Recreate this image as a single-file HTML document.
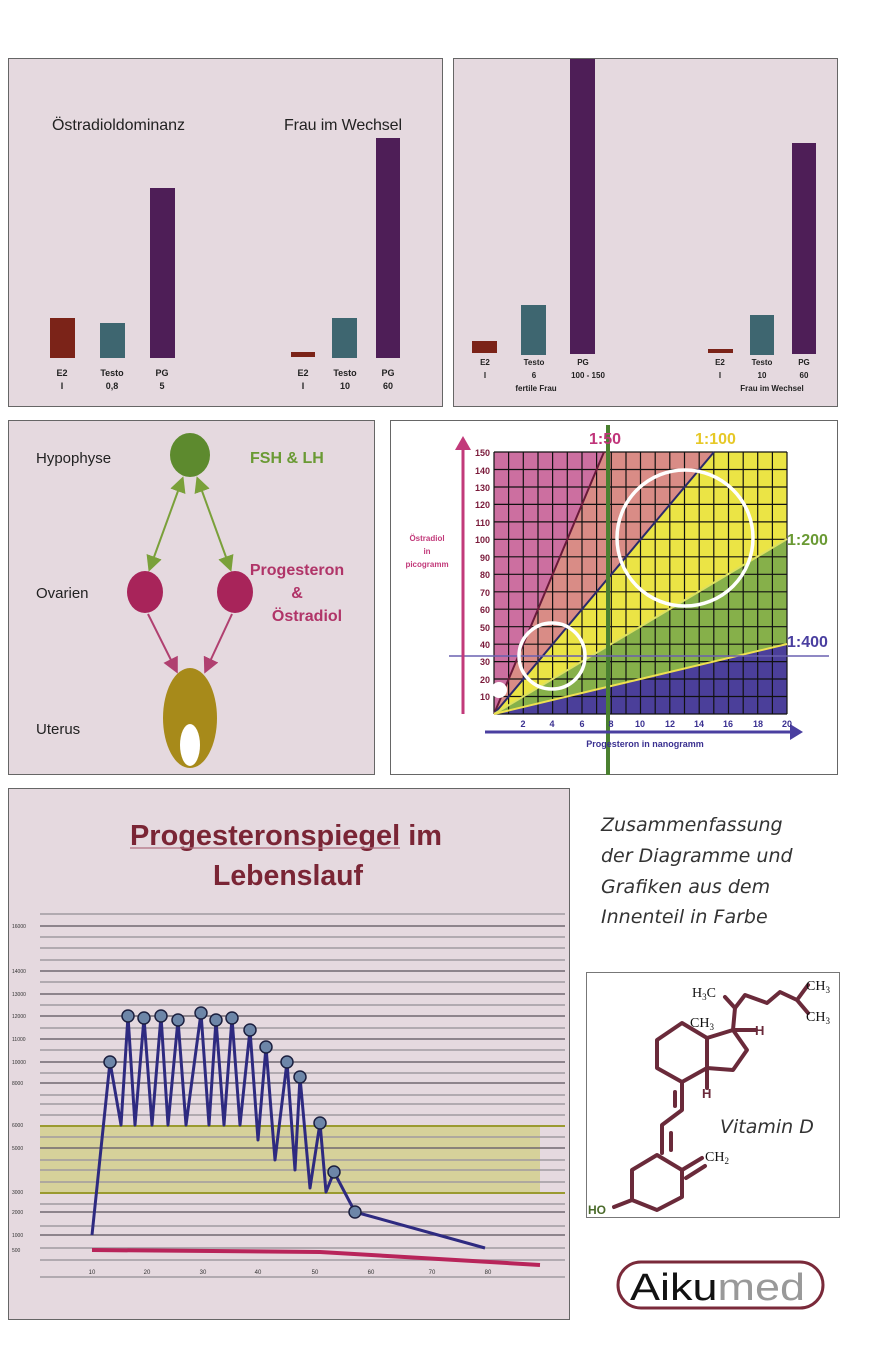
<!DOCTYPE html>
<html><head><meta charset="utf-8"><style>
html,body{margin:0;padding:0;background:#fff}
svg{display:block}
text{font-family:"Liberation Sans",sans-serif}
</style></head><body>
<svg width="870" height="1356" viewBox="0 0 870 1356" xmlns="http://www.w3.org/2000/svg">
<rect width="870" height="1356" fill="#fff"/>
<!-- Panel 1 -->
<rect x="8.5" y="58.5" width="434" height="348" fill="#e5d9df" stroke="#666"/>
<text x="52" y="130" font-size="16" fill="#222" textLength="133">Östradioldominanz</text>
<text x="284" y="130" font-size="16" fill="#222" textLength="118">Frau im Wechsel</text>
<rect x="50" y="318" width="25" height="40" fill="#7b2318"/>
<rect x="100" y="323" width="25" height="35" fill="#3e6670"/>
<rect x="150" y="188" width="25" height="170" fill="#4e1e57"/>
<rect x="291" y="352" width="24" height="5" fill="#7b2318"/>
<rect x="332" y="318" width="25" height="40" fill="#3e6670"/>
<rect x="376" y="138" width="24" height="220" fill="#4e1e57"/>
<g font-size="9" font-weight="bold" fill="#222" text-anchor="middle">
<text x="62" y="376">E2</text><text x="62" y="389">I</text>
<text x="112" y="376">Testo</text><text x="112" y="389">0,8</text>
<text x="162" y="376">PG</text><text x="162" y="389">5</text>
<text x="303" y="376">E2</text><text x="303" y="389">I</text>
<text x="345" y="376">Testo</text><text x="345" y="389">10</text>
<text x="388" y="376">PG</text><text x="388" y="389">60</text>
</g>
<!-- Panel 2 -->
<rect x="453.5" y="58.5" width="384" height="348" fill="#e5d9df" stroke="#666"/>
<rect x="472" y="341" width="25" height="12" fill="#7b2318"/>
<rect x="521" y="305" width="25" height="50" fill="#3e6670"/>
<rect x="570" y="59" width="25" height="295" fill="#4e1e57"/>
<rect x="708" y="349" width="25" height="4" fill="#7b2318"/>
<rect x="750" y="315" width="24" height="40" fill="#3e6670"/>
<rect x="792" y="143" width="24" height="211" fill="#4e1e57"/>
<g font-size="8" font-weight="bold" fill="#222" text-anchor="middle">
<text x="485" y="365">E2</text><text x="485" y="378">I</text>
<text x="534" y="365">Testo</text><text x="534" y="378">6</text>
<text x="583" y="365">PG</text><text x="588" y="378">100 - 150</text>
<text x="536" y="391">fertile Frau</text>
<text x="720" y="365">E2</text><text x="720" y="378">I</text>
<text x="762" y="365">Testo</text><text x="762" y="378">10</text>
<text x="804" y="365">PG</text><text x="804" y="378">60</text>
<text x="772" y="391">Frau im Wechsel</text>
</g>
<!-- Panel 3 -->
<rect x="8.5" y="420.5" width="366" height="354" fill="#e5d9df" stroke="#666"/>
<text x="36" y="463" font-size="15" fill="#222">Hypophyse</text>
<text x="36" y="598" font-size="15" fill="#222">Ovarien</text>
<text x="36" y="734" font-size="15" fill="#222">Uterus</text>
<text x="250" y="463" font-size="16" font-weight="bold" fill="#6a9a34">FSH &amp; LH</text>
<g font-size="16" font-weight="bold" fill="#b03468" text-anchor="middle">
<text x="297" y="575">Progesteron</text><text x="297" y="598">&amp;</text><text x="307" y="621">Östradiol</text></g>
<defs>
<marker id="ag" markerWidth="8" markerHeight="8" refX="6" refY="4" orient="auto"><path d="M0,0 L8,4 L0,8 z" fill="#7aa03a"/></marker>
<marker id="agr" markerWidth="8" markerHeight="8" refX="2" refY="4" orient="auto"><path d="M8,0 L0,4 L8,8 z" fill="#7aa03a"/></marker>
<marker id="ap" markerWidth="8" markerHeight="8" refX="6" refY="4" orient="auto"><path d="M0,0 L8,4 L0,8 z" fill="#b04070"/></marker>
</defs>
<g stroke="#7aa03a" stroke-width="2"><line x1="182" y1="480" x2="150" y2="568" marker-start="url(#agr)" marker-end="url(#ag)"/>
<line x1="198" y1="480" x2="230" y2="568" marker-start="url(#agr)" marker-end="url(#ag)"/></g>
<g stroke="#b04070" stroke-width="2"><line x1="148" y1="614" x2="176" y2="670" marker-end="url(#ap)"/><line x1="232" y1="614" x2="206" y2="670" marker-end="url(#ap)"/></g>
<ellipse cx="190" cy="455" rx="20" ry="22" fill="#5d8a2e"/>
<ellipse cx="145" cy="592" rx="18" ry="21" fill="#a8245a"/>
<ellipse cx="235" cy="592" rx="18" ry="21" fill="#a8245a"/>
<ellipse cx="190" cy="718" rx="27" ry="50" fill="#a78a1a"/>
<ellipse cx="190" cy="745" rx="10" ry="21" fill="#fff"/>
<!-- Panel 4 -->
<rect x="390.5" y="420.5" width="447" height="354" fill="#fff" stroke="#666"/>
<polygon points="494,714 494,452 604,452" fill="#cc6fa0"/>
<polygon points="494,714 604,452 714,452" fill="#d98c86"/>
<polygon points="494,714 714,452 787,452 787,539" fill="#ebe445"/>
<polygon points="494,714 787,539 787,644" fill="#86b04a"/>
<polygon points="494,714 787,644 787,714" fill="#4b3f9a"/>
<g stroke="#111" stroke-width="1.2">
<path d="M494,452V714M508.6,452V714M523.3,452V714M538,452V714M552.6,452V714M567.3,452V714M582,452V714M596.6,452V714M611.3,452V714M626,452V714M640.5,452V714M655.2,452V714M669.8,452V714M684.5,452V714M699.2,452V714M713.8,452V714M728.5,452V714M743.2,452V714M757.7,452V714M772.4,452V714M787,452V714"/>
<path d="M494,452H787M494,469.5H787M494,487H787M494,504.4H787M494,521.9H787M494,539.3H787M494,556.8H787M494,574.3H787M494,591.8H787M494,609.2H787M494,626.7H787M494,644.2H787M494,661.6H787M494,679H787M494,696.5H787M494,714H787"/>
</g>
<g stroke-width="2"><line x1="494" y1="714" x2="604" y2="452" stroke="#6a1a3a"/><line x1="494" y1="714" x2="714" y2="452" stroke="#2a2a6a"/><line x1="494" y1="714" x2="787" y2="539" stroke="#dde060"/><line x1="494" y1="714" x2="787" y2="644" stroke="#eee050"/></g>
<line x1="608" y1="425" x2="608" y2="775" stroke="#4a8030" stroke-width="4"/>
<line x1="449" y1="656" x2="829" y2="656" stroke="#6a60b0" stroke-width="1.5"/>
<circle cx="685" cy="538" r="68" fill="none" stroke="#fff" stroke-width="3.5"/>
<circle cx="552" cy="656" r="33" fill="none" stroke="#fff" stroke-width="3.5"/>
<circle cx="499" cy="690" r="8" fill="#fff"/>
<line x1="463" y1="714" x2="463" y2="448" stroke="#c23a7a" stroke-width="3"/><path d="M455,450 L463,436 L471,450z" fill="#c23a7a"/>
<line x1="485" y1="732" x2="792" y2="732" stroke="#4a3fa0" stroke-width="3"/><path d="M790,724 L803,732 L790,740z" fill="#4a3fa0"/>
<g font-size="9" font-weight="bold" fill="#7a1a3a" text-anchor="end">
<text x="490" y="456">150</text><text x="490" y="474">140</text><text x="490" y="491">130</text><text x="490" y="508">120</text><text x="490" y="526">110</text><text x="490" y="543">100</text><text x="490" y="561">90</text><text x="490" y="578">80</text><text x="490" y="596">70</text><text x="490" y="613">60</text><text x="490" y="631">50</text><text x="490" y="648">40</text><text x="490" y="665">30</text><text x="490" y="683">20</text><text x="490" y="700">10</text></g>
<g font-size="9" font-weight="bold" fill="#3a3090" text-anchor="middle">
<text x="523" y="727">2</text><text x="552" y="727">4</text><text x="582" y="727">6</text><text x="611" y="727">8</text><text x="640" y="727">10</text><text x="670" y="727">12</text><text x="699" y="727">14</text><text x="728" y="727">16</text><text x="758" y="727">18</text><text x="787" y="727">20</text>
<text x="645" y="747">Progesteron in nanogramm</text></g>
<g font-size="8" font-weight="bold" fill="#c23a7a" text-anchor="middle"><text x="427" y="541">Östradiol</text><text x="427" y="554">in</text><text x="427" y="567">picogramm</text></g>
<g font-size="16" font-weight="bold"><text x="589" y="444" fill="#c0347a">1:50</text><text x="695" y="444" fill="#e6c827">1:100</text><text x="787" y="545" fill="#6a9a34">1:200</text><text x="787" y="647" fill="#4a3fa0">1:400</text></g>
<!-- Panel 5 -->
<rect x="8.5" y="788.5" width="561" height="531" fill="#e5d9df" stroke="#666"/>
<g font-size="29" font-weight="bold" fill="#7a2535">
<text x="130" y="845" textLength="312" lengthAdjust="spacingAndGlyphs">Progesteronspiegel im</text>
<text x="213" y="885" textLength="150" lengthAdjust="spacingAndGlyphs">Lebenslauf</text></g>
<line x1="130" y1="848" x2="400" y2="848" stroke="#b07080" stroke-width="1.2"/>
<rect x="40" y="1126" width="500" height="67" fill="#d4cf8e" opacity="0.85"/>
<g stroke="#a09aa0" stroke-width="1.5">
<path d="M40,914H565M40,937H565M40,948H565M40,960H565M40,982H565M40,1005H565M40,1028H565M40,1050H565M40,1073H565M40,1095H565M40,1104H565M40,1115H565M40,1137H565M40,1160H565M40,1170H565M40,1182H565M40,1204H565M40,1226H565M40,1248H565M40,1260H565M40,1277H565"/></g>
<g stroke="#706870" stroke-width="1.6">
<path d="M40,926H565M40,971H565M40,994H565M40,1016H565M40,1039H565M40,1062H565M40,1083H565M40,1148H565M40,1212H565M40,1235H565"/></g>
<g stroke="#9a9a30" stroke-width="2"><path d="M40,1126H565M40,1193H565"/></g>
<polyline fill="none" stroke="#2e2a80" stroke-width="3" stroke-linejoin="round" points="92,1235 110,1062 121,1125 128,1016 135,1125 144,1018 152,1125 161,1016 168,1125 178,1020 186,1125 201,1013 209,1125 216,1020 224,1125 232,1018 240,1125 250,1030 258,1140 266,1047 275,1160 287,1062 295,1170 300,1077 310,1188 320,1123 326,1192 334,1172 355,1212 485,1248"/>
<polyline fill="none" stroke="#b8245a" stroke-width="4" points="92,1250 320,1252 540,1265"/>
<g fill="#6d86a8" stroke="#1c2040" stroke-width="1.5">
<circle cx="110" cy="1062" r="6"/><circle cx="128" cy="1016" r="6"/><circle cx="144" cy="1018" r="6"/><circle cx="161" cy="1016" r="6"/><circle cx="178" cy="1020" r="6"/><circle cx="201" cy="1013" r="6"/><circle cx="216" cy="1020" r="6"/><circle cx="232" cy="1018" r="6"/><circle cx="250" cy="1030" r="6"/><circle cx="266" cy="1047" r="6"/><circle cx="287" cy="1062" r="6"/><circle cx="300" cy="1077" r="6"/><circle cx="320" cy="1123" r="6"/><circle cx="334" cy="1172" r="6"/><circle cx="355" cy="1212" r="6"/></g>
<g font-size="5" fill="#333"><text x="12" y="928">16000</text><text x="12" y="973">14000</text><text x="12" y="996">13000</text><text x="12" y="1018">12000</text><text x="12" y="1041">11000</text><text x="12" y="1064">10000</text><text x="12" y="1085">8000</text><text x="12" y="1127">6000</text><text x="12" y="1150">5000</text><text x="12" y="1194">3000</text><text x="12" y="1214">2000</text><text x="12" y="1237">1000</text><text x="12" y="1252">500</text></g>
<g font-size="6" fill="#333" text-anchor="middle"><text x="92" y="1274">10</text><text x="147" y="1274">20</text><text x="203" y="1274">30</text><text x="258" y="1274">40</text><text x="315" y="1274">50</text><text x="371" y="1274">60</text><text x="432" y="1274">70</text><text x="488" y="1274">80</text></g>
<!-- Summary text -->
<g font-style="italic" font-size="19" fill="#333" style="font-family:'DejaVu Sans',sans-serif"><text x="601" y="831" style="font-family:'DejaVu Sans',sans-serif">Zusammenfassung</text><text x="601" y="862" style="font-family:'DejaVu Sans',sans-serif">der Diagramme und</text><text x="601" y="893" style="font-family:'DejaVu Sans',sans-serif">Grafiken aus dem</text><text x="601" y="923" style="font-family:'DejaVu Sans',sans-serif">Innenteil in Farbe</text></g>
<!-- Vitamin D -->
<rect x="586.5" y="972.5" width="253" height="245" fill="#fff" stroke="#777"/>
<g fill="none" stroke="#6a2a3a" stroke-width="4" stroke-linejoin="round" stroke-linecap="round">
<polygon points="657,1040 682,1023 707,1038 707,1068 682,1082 657,1068"/>
<polyline points="707,1038 733,1030 747,1050 733,1070 707,1068"/>
<polyline points="733,1030 735,1008 745,995 767,1003 780,992 797,1000 808,985"/>
<line x1="797" y1="1000" x2="808" y2="1013"/>
<line x1="735" y1="1008" x2="725" y2="997"/>
<line x1="733" y1="1030" x2="756" y2="1030"/>
<line x1="707" y1="1068" x2="707" y2="1088"/>
<polyline points="682,1082 682,1110 662,1125 662,1153"/>
<line x1="675" y1="1092" x2="675" y2="1106"/>
<line x1="671" y1="1133" x2="671" y2="1150"/>
<polygon points="657,1155 682,1170 682,1197 657,1210 632,1200 632,1170"/>
<line x1="682" y1="1170" x2="702" y2="1158"/><line x1="686" y1="1178" x2="705" y2="1166"/>
<line x1="632" y1="1200" x2="614" y2="1207"/>
</g>
<g font-size="14" fill="#111" style="font-family:'Liberation Serif',serif">
<text x="692" y="997" style="font-family:'Liberation Serif',serif">H<tspan font-size="9" dy="3">3</tspan><tspan dy="-3">C</tspan></text>
<text x="806" y="990" style="font-family:'Liberation Serif',serif">CH<tspan font-size="9" dy="3">3</tspan></text>
<text x="806" y="1021" style="font-family:'Liberation Serif',serif">CH<tspan font-size="9" dy="3">3</tspan></text>
<text x="690" y="1027" style="font-family:'Liberation Serif',serif">CH<tspan font-size="9" dy="3">3</tspan></text>
<text x="705" y="1161" style="font-family:'Liberation Serif',serif">CH<tspan font-size="9" dy="3">2</tspan></text></g>
<text x="755" y="1035" font-size="13" font-weight="bold" fill="#6a2a3a">H</text>
<text x="702" y="1098" font-size="13" font-weight="bold" fill="#6a2a3a">H</text>
<text x="588" y="1214" font-size="12" font-weight="bold" fill="#4a6a2a">HO</text>
<text x="720" y="1133" font-size="19" font-style="italic" fill="#333" style="font-family:'DejaVu Sans',sans-serif">Vitamin D</text>
<!-- Logo -->
<rect x="618" y="1262" width="205" height="46" rx="23" fill="#fff" stroke="#7a2a3a" stroke-width="3"/>
<text x="630" y="1300" font-size="38" fill="#111" textLength="175" lengthAdjust="spacingAndGlyphs">Aiku<tspan fill="#999">med</tspan></text>
</svg>
</body></html>
